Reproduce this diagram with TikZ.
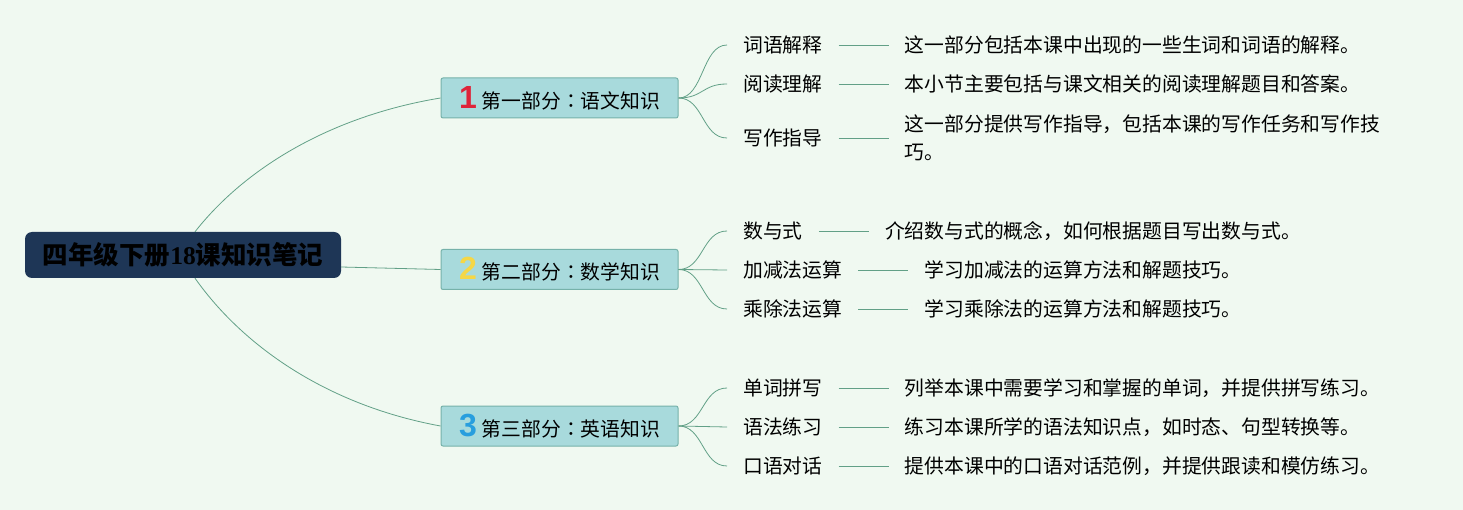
\documentclass[tikz,border=0pt]{standalone}
\usepackage{fontspec}
\setmainfont{Noto Sans CJK SC}
\newfontfamily\numfont{Liberation Sans}
\newfontfamily\digfont{Liberation Serif}
\newfontfamily\tcfont{Noto Sans CJK TC}
\usetikzlibrary{calc,positioning}
\definecolor{bgc}{RGB}{240,249,241}
\definecolor{rootc}{RGB}{30,54,86}
\definecolor{brfill}{RGB}{168,218,220}
\definecolor{brdraw}{RGB}{118,178,170}
\definecolor{connc}{RGB}{98,160,135}
\definecolor{nred}{RGB}{222,36,58}
\definecolor{nyel}{RGB}{245,215,70}
\definecolor{nblu}{RGB}{40,158,222}
\newcommand{\bnum}[2]{{\numfont\bfseries\fontsize{32}{32}\selectfont\color{#1}#2}\hspace{5pt}}
\newcommand{\ccolon}{{\tcfont ：}}
\begin{document}
\begin{tikzpicture}[x=1pt,y=-1pt,
  rootbox/.style={fill=rootc, rounded corners=7pt, minimum width=316pt, minimum height=46pt, inner sep=0pt, font=\fontsize{25.5}{30}\selectfont\bfseries, text=black},
  branchbox/.style={fill=brfill, draw=brdraw, line width=1pt, rounded corners=2pt, minimum width=237pt, minimum height=40pt, inner sep=0pt, font=\fontsize{19.8}{28}\selectfont},
  leaf/.style={inner xsep=16pt, inner ysep=2pt, anchor=west, font=\fontsize{19.8}{28}\selectfont},
  desc/.style={inner xsep=16pt, inner ysep=2pt, align=left, font=\fontsize{19.8}{28}\selectfont},
  conn/.style={draw=connc, line width=0.8pt},
]
\fill[bgc] (0,0) rectangle (1463,510);
\useasboundingbox (0,0) rectangle (1463,510);

\node[rootbox] (root) at (183,255) {四年级下册{\digfont\bfseries 18}课知识笔记};

\node[branchbox] (b1) at (559.5,98) {\bnum{nred}{1}第一部分\ccolon 语文知识};
\node[branchbox] (b2) at (559.5,269.5) {\bnum{nyel}{2}第二部分\ccolon 数学知识};
\node[branchbox] (b3) at (559.5,426) {\bnum{nblu}{3}第三部分\ccolon 英语知识};

\node[leaf] (l11) at (727,45) {词语解释};
\node[leaf] (l12) at (727,84) {阅读理解};
\node[leaf] (l13) at (727,138) {写作指导};
\node[leaf] (l21) at (727,231) {数与式};
\node[leaf] (l22) at (727,270) {加减法运算};
\node[leaf] (l23) at (727,309) {乘除法运算};
\node[leaf] (l31) at (727,388) {单词拼写};
\node[leaf] (l32) at (727,427) {语法练习};
\node[leaf] (l33) at (727,466) {口语对话};

\node[desc, right=50pt of l11] (d11) {这一部分包括本课中出现的一些生词和词语的解释。};
\node[desc, right=50pt of l12] (d12) {本小节主要包括与课文相关的阅读理解题目和答案。};
\node[desc, right=50pt of l13] (d13) {这一部分提供写作指导，包括本课的写作任务和写作技\\巧。};
\node[desc, right=50pt of l21] (d21) {介绍数与式的概念，如何根据题目写出数与式。};
\node[desc, right=50pt of l22] (d22) {学习加减法的运算方法和解题技巧。};
\node[desc, right=50pt of l23] (d23) {学习乘除法的运算方法和解题技巧。};
\node[desc, right=50pt of l31] (d31) {列举本课中需要学习和掌握的单词，并提供拼写练习。};
\node[desc, right=50pt of l32] (d32) {练习本课所学的语法知识点，如时态、句型转换等。};
\node[desc, right=50pt of l33] (d33) {提供本课中的口语对话范例，并提供跟读和模仿练习。};

\draw[conn] ([xshift=12pt]root.north) .. controls (245,168) and (331,116) .. (b1.west);
\draw[conn] ([yshift=-12pt]root.east) -- (b2.west);
\draw[conn] ([xshift=12pt]root.south) .. controls (245,349) and (331,406) .. (b3.west);

\foreach \b/\l in {b1/l11,b1/l12,b1/l13,b2/l21,b2/l22,b2/l23,b3/l31,b3/l32,b3/l33}
  \draw[conn] (\b.east) .. controls +(25,0) and +(-25,0) .. (\l.west);
\foreach \l/\d in {l11/d11,l12/d12,l13/d13,l21/d21,l22/d22,l23/d23,l31/d31,l32/d32,l33/d33}
  \draw[conn] (\l) -- (\d);
\end{tikzpicture}
\end{document}
